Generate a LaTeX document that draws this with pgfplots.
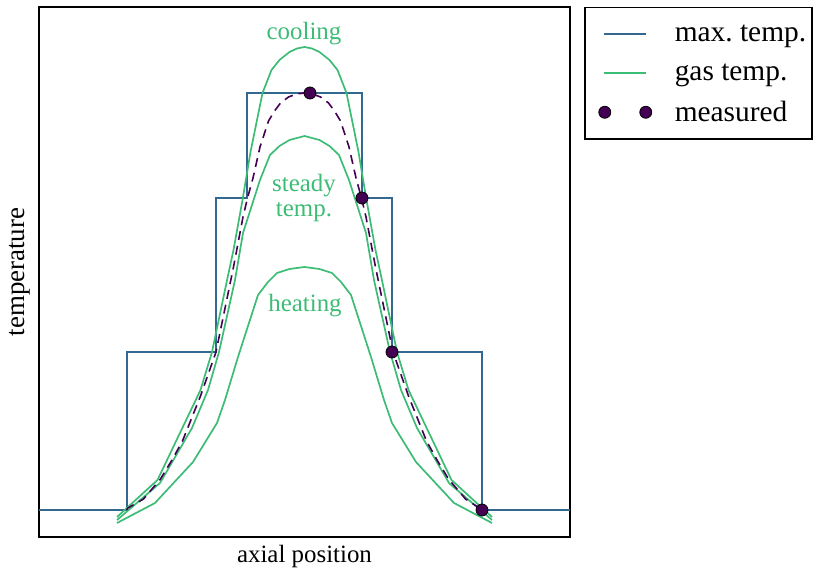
\documentclass[border=0pt]{standalone}
\usepackage{fontspec}
\setmainfont{Liberation Serif}
\usepackage{pgfplots}
\pgfplotsset{compat=1.18}
\frenchspacing
\definecolor{maxc}{HTML}{33688F}
\definecolor{gasc}{HTML}{3CBC75}
\definecolor{measc}{HTML}{440154}
\pgfplotsset{
  mylineleg/.style={legend image code/.code={\path[draw=none,fill=none] (-13bp,-19.5bp) rectangle (71bp,19.5bp); \draw[##1] (0bp,0bp) -- (42bp,0bp);}},
  mymarkleg/.style={legend image code/.code={\path[draw=none,fill=none] (-13bp,-19.5bp) rectangle (71bp,19.5bp); \draw[##1] plot[only marks, mark=*] coordinates {(1bp,0bp) (42bp,0bp)};}},
}
\begin{document}
\begin{tikzpicture}
\path[use as bounding box] (0,0) rectangle (813bp,569bp);
\begin{axis}[
  at={(39bp,32bp)}, anchor=south west,
  width=531bp, height=530bp, scale only axis,
  xmin=0, xmax=531, ymin=0, ymax=530,
  xtick=\empty, ytick=\empty,
  axis line style={line width=1.5bp},
  xlabel={axial position},
  xlabel style={at={(axis description cs:0.5,-0.016)}, anchor=north, inner sep=0pt, font=\fontsize{25}{30}\selectfont},
  ylabel={temperature},
  ylabel style={at={(axis description cs:-0.017,0.5)}, anchor=south, inner sep=0pt, font=\fontsize{27}{30}\selectfont},
  legend style={at={(rel axis cs:1.0264,1)}, anchor=north west, draw=black, line width=1.5bp,
    font=\fontsize{29.5}{34}\selectfont, inner xsep=6bp, inner ysep=7bp, row sep=0bp, column sep=0bp,
    nodes={inner sep=0pt}},
  legend cell align=left,
]
\addplot[color=maxc, line width=1.8bp, mylineleg]
  coordinates {(0,27)(88,27)(88,185)(177,185)(177,339)(208,339)(208,444)(323,444)(323,339)(353,339)(353,185)(443,185)(443,27)(531,27)};
\addlegendentry{max. temp.}
% cooling
\addplot[color=gasc, line width=1.7bp, mylineleg]
  coordinates {(78,20)(118.5,57)(161.5,147)(173,185)(188.5,259)(194.5,287)(203.5,337)(211.5,385)(223.5,444)(232.5,467)(240.5,477)(250.5,485)(258,488.5)(265.5,490)(273,488.5)(280.5,485)(290.5,477)(298.5,467)(307.5,444)(319.5,385)(327.5,337)(336.5,287)(342.5,259)(358,185)(369.5,147)(412.5,57)(453,20)};
\addlegendentry{gas temp.}
% steady
\addplot[color=gasc, line width=1.7bp, forget plot]
  coordinates {(78,17)(121,54)(153,109)(169,147)(180,185)(196,257)(204,304)(221,357)(231,382)(240.5,391)(250.5,397)(265.5,401)(280.5,397)(290.5,391)(300,382)(310,357)(327,304)(335,257)(351,185)(362,147)(378,109)(410,54)(453,17)};
% heating
\addplot[color=gasc, line width=1.7bp, forget plot]
  coordinates {(78,14)(116,34)(154,75)(178,114)(186,137)(199,180)(219,242)(229,255)(238,264)(250.5,268)(265.5,270)(280.5,268)(293,264)(302,255)(312,242)(332,180)(345,137)(353,114)(377,75)(415,34)(453,14)};
% measured fit
\addplot[color=measc, line width=1.6bp, dash pattern=on 9bp off 6bp, forget plot]
  coordinates {(87.5,27)(89,29)(104.5,38)(121.5,58)(133,77)(143.5,96)(161.5,141)(177,185)(194.5,270)(204,320)(208.5,339)(214,359)(221,390)(229.5,416)(235.5,426)(241.5,434)(249.5,440)(257.5,443)(265.5,444)(273.5,443)(281.5,440)(289.5,434)(295.5,426)(301.5,416)(310,390)(317,359)(322.5,339)(327,320)(336.5,270)(354,185)(369.5,141)(387.5,96)(398,77)(409.5,58)(426.5,38)(443.5,27)};
\addplot[only marks, mark=*, mark size=6bp, mark options={fill=measc, draw=black, line width=0.8bp}, mymarkleg]
  coordinates {(271,444)(323,339)(353,185)(443,27)};
\addlegendentry{measured}
\node[text=gasc, font=\fontsize{25}{30}\selectfont] at (axis cs:265,503) {cooling};
\node[text=gasc, font=\fontsize{25}{26}\selectfont, align=center] at (axis cs:265,339) {steady\\temp.};
\node[text=gasc, font=\fontsize{25}{30}\selectfont] at (axis cs:266,231) {heating};
\end{axis}
\end{tikzpicture}
\end{document}
